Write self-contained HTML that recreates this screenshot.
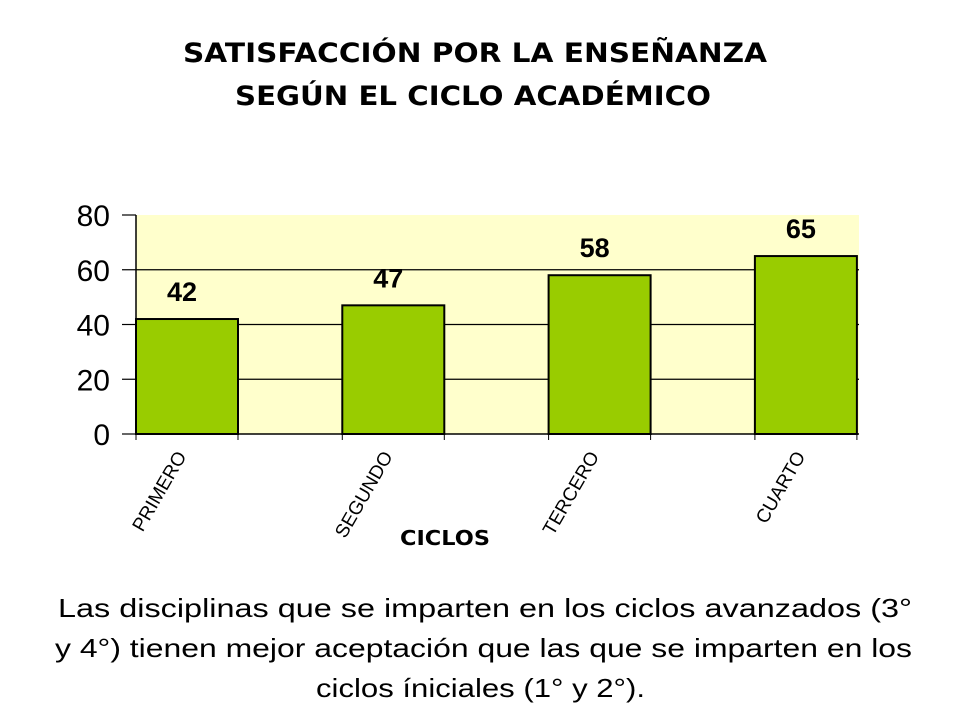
<!DOCTYPE html>
<html><head><meta charset="utf-8"><style>
body{margin:0;background:#fff;width:960px;height:720px;overflow:hidden}
svg{display:block}
</style></head><body>
<svg width="960" height="720" id="svg">
<text x="475" y="62" text-anchor="middle" font-family="DejaVu Sans, sans-serif" font-weight="bold" font-size="27" textLength="584" lengthAdjust="spacingAndGlyphs">SATISFACCIÓN POR LA  ENSEÑANZA</text>
<text x="473" y="105" text-anchor="middle" font-family="DejaVu Sans, sans-serif" font-weight="bold" font-size="27" textLength="476" lengthAdjust="spacingAndGlyphs">SEGÚN EL CICLO ACADÉMICO</text>
<rect x="136" y="215" width="723" height="219" fill="#ffffcc"/>
<g id="grid"></g><g id="bars"></g><g id="axes"></g>
<text x="445" y="545" text-anchor="middle" font-family="DejaVu Sans, sans-serif" font-weight="bold" font-size="20" textLength="90" lengthAdjust="spacingAndGlyphs">CICLOS</text>
<g font-family="Liberation Sans, Arial, sans-serif" font-size="26" fill="#000">
<text x="58" y="617" textLength="854" lengthAdjust="spacingAndGlyphs">Las disciplinas que se imparten en los ciclos avanzados   (3°</text>
<text x="55" y="657" textLength="857" lengthAdjust="spacingAndGlyphs">y 4°) tienen mejor aceptación  que las que se imparten en los</text>
<text x="316" y="697" textLength="329" lengthAdjust="spacingAndGlyphs">ciclos íniciales (1° y 2°).</text>
</g>
</svg>
<script>
const categories=["PRIMERO","SEGUNDO","TERCERO","CUARTO"];
const values=[42,47,58,65];
const yTicks=[0,20,40,60,80];
const NS="http://www.w3.org/2000/svg";
const x0=136,step=206.3,bw=102,yBase=434,yTop=215,yMax=80;
const y=v=>yBase-(v/yMax)*(yBase-yTop);
const xb=i=>x0+i*step;
function mk(t,a,p){const e=document.createElementNS(NS,t);for(const k in a)e.setAttribute(k,a[k]);p.appendChild(e);return e;}
const g=document.getElementById('grid'),b=document.getElementById('bars'),ax=document.getElementById('axes');
yTicks.forEach(v=>{
 if(v>0&&v<yMax){const l=mk('line',{x1:136,x2:859,y1:y(v),y2:y(v),stroke:'#000','stroke-width':1.2},g);
 
 }
 const t=mk('line',{x1:122,x2:136,y1:y(v),y2:y(v),stroke:'#000','stroke-width':1.2},ax);
 
 
 const tx=mk('text',{x:110,y:y(v)+11,'text-anchor':'end','font-family':'Liberation Sans, Arial, sans-serif','font-size':30},ax);
 tx.textContent=v;
 
 
});
categories.forEach((c,i)=>{
 const r=mk('rect',{x:xb(i),y:y(values[i]),width:bw,height:yBase-y(values[i]),fill:'#99cc00',stroke:'#000','stroke-width':2},b);
 
 
 const vl=mk('text',{x:xb(i)+bw/2-5,y:y(values[i])-18,'text-anchor':'middle','font-family':'Liberation Sans, Arial, sans-serif','font-weight':'bold','font-size':27},b);
 vl.textContent=values[i];
 
 
 [xb(i),xb(i)+bw].forEach(tx=>mk('line',{x1:tx,x2:tx,y1:yBase,y2:yBase+6,stroke:'#000'},ax));
 const cx=xb(i)+bw/2,cy=yBase+22;
 const lab=mk('text',{x:cx,y:cy,'text-anchor':'end','font-family':'Liberation Sans, Arial, sans-serif','font-size':19,transform:`rotate(-60 ${cx} ${cy})`},ax);
 lab.textContent=c;
 
 
});
const ya=mk('line',{x1:136,x2:136,y1:yTop,y2:yBase,stroke:'#000','stroke-width':1.5},ax);


const xa=mk('line',{x1:136,x2:859,y1:yBase,y2:yBase,stroke:'#000','stroke-width':1.5},ax);


</script>
</body></html>
